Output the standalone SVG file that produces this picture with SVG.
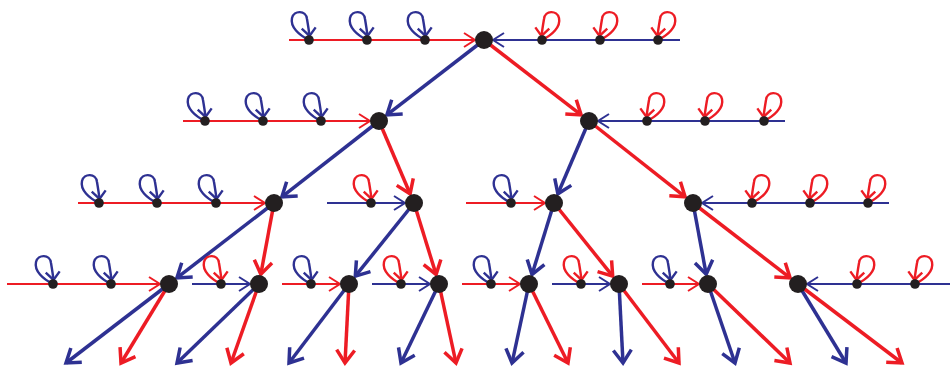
<svg xmlns="http://www.w3.org/2000/svg" xmlns:xlink="http://www.w3.org/1999/xlink" width="951" height="367" viewBox="0 0 951 367">
<style>
.tb{stroke:#2e3192;stroke-width:3.5;fill:none;marker-end:url(#mTB)}
.tr{stroke:#ed1c24;stroke-width:3.5;fill:none;marker-end:url(#mTR)}
.hb{stroke:#2e3192;stroke-width:1.8;fill:none;marker-end:url(#mHB)}
.hr{stroke:#ed1c24;stroke-width:1.8;fill:none;marker-end:url(#mHR)}
.lb{stroke:#2e3192;stroke-width:2.4;fill:none;marker-end:url(#mLB)}
.lr{stroke:#ed1c24;stroke-width:2.4;fill:none;marker-end:url(#mLR)}
.big{fill:#231f20}
.sm{fill:#231f20}
</style>
<defs>
<marker id="mTB" markerUnits="userSpaceOnUse" viewBox="-16 -12 20 24" markerWidth="20" markerHeight="24" refX="0" refY="0" orient="auto" overflow="visible"><path d="M-13,-9 L0,0 L-13,9" fill="none" stroke="#2e3192" stroke-width="3.5"/></marker>
<marker id="mTR" markerUnits="userSpaceOnUse" viewBox="-16 -12 20 24" markerWidth="20" markerHeight="24" refX="0" refY="0" orient="auto" overflow="visible"><path d="M-13,-9 L0,0 L-13,9" fill="none" stroke="#ed1c24" stroke-width="3.5"/></marker>
<marker id="mHB" markerUnits="userSpaceOnUse" viewBox="-14 -10 16 20" markerWidth="16" markerHeight="20" refX="0" refY="0" orient="auto" overflow="visible"><path d="M-11,-7 L0,0 L-11,7" fill="none" stroke="#2e3192" stroke-width="2"/></marker>
<marker id="mHR" markerUnits="userSpaceOnUse" viewBox="-14 -10 16 20" markerWidth="16" markerHeight="20" refX="0" refY="0" orient="auto" overflow="visible"><path d="M-11,-7 L0,0 L-11,7" fill="none" stroke="#ed1c24" stroke-width="2"/></marker>
<marker id="mLB" markerUnits="userSpaceOnUse" viewBox="-12 -10 14 20" markerWidth="14" markerHeight="20" refX="0" refY="0" orient="auto" overflow="visible"><path d="M-8,-7 L0,0 L-8,7" fill="none" stroke="#2e3192" stroke-width="2.4"/></marker>
<marker id="mLR" markerUnits="userSpaceOnUse" viewBox="-12 -10 14 20" markerWidth="14" markerHeight="20" refX="0" refY="0" orient="auto" overflow="visible"><path d="M-8,-7 L0,0 L-8,7" fill="none" stroke="#ed1c24" stroke-width="2.4"/></marker>
<path id="loop" d="M0,0 C-10,-5 -19,-13 -17,-22 C-15,-30 -3,-30 -2,-21 C-1,-15 0,-9 0.5,-4"/>
</defs>

<g id="connectors">
<!-- horizontal chains -->
<line class="hr" x1="289" y1="40" x2="475" y2="40"/>
<line class="hb" x1="680" y1="40" x2="493" y2="40"/>
<line class="hr" x1="183" y1="121" x2="370" y2="121"/>
<line class="hb" x1="785" y1="121" x2="598" y2="121"/>
<line class="hr" x1="78" y1="203" x2="265" y2="203"/>
<line class="hb" x1="327" y1="203" x2="405" y2="203"/>
<line class="hr" x1="466" y1="203" x2="545" y2="203"/>
<line class="hb" x1="889" y1="203" x2="702" y2="203"/>
<line class="hr" x1="7" y1="284" x2="160" y2="284"/>
<line class="hb" x1="192" y1="284" x2="250" y2="284"/>
<line class="hr" x1="282" y1="284" x2="340" y2="284"/>
<line class="hb" x1="372" y1="284" x2="430" y2="284"/>
<line class="hr" x1="462" y1="284" x2="520" y2="284"/>
<line class="hb" x1="552" y1="284" x2="610" y2="284"/>
<line class="hr" x1="642" y1="284" x2="699" y2="284"/>
<line class="hb" x1="950" y1="284" x2="807" y2="284"/>
<!-- tree edges -->
<line class="tb" x1="484" y1="40" x2="386.9" y2="114.9"/>
<line class="tr" x1="484" y1="40" x2="581.1" y2="114.9"/>
<line class="tb" x1="379" y1="121" x2="281.9" y2="196.8"/>
<line class="tr" x1="379" y1="121" x2="410.1" y2="193.8"/>
<line class="tb" x1="589" y1="121" x2="557.9" y2="193.8"/>
<line class="tr" x1="589" y1="121" x2="685.1" y2="196.8"/>
<line class="tb" x1="274" y1="203" x2="176.9" y2="277.9"/>
<line class="tr" x1="274" y1="203" x2="260.8" y2="274.2"/>
<line class="tb" x1="414" y1="203" x2="355.3" y2="276.2"/>
<line class="tr" x1="414" y1="203" x2="436.1" y2="274.5"/>
<line class="tb" x1="554" y1="203" x2="532" y2="274.5"/>
<line class="tr" x1="554" y1="203" x2="612.7" y2="276.2"/>
<line class="tb" x1="693" y1="203" x2="706.2" y2="274.2"/>
<line class="tr" x1="693" y1="203" x2="790.1" y2="277.9"/>
<!-- leaves -->
<line class="tb" x1="169" y1="284" x2="66" y2="363"/>
<line class="tr" x1="169" y1="284" x2="121" y2="363"/>
<line class="tb" x1="259" y1="284" x2="177" y2="363"/>
<line class="tr" x1="259" y1="284" x2="231" y2="363"/>
<line class="tb" x1="349" y1="284" x2="289" y2="363"/>
<line class="tr" x1="349" y1="284" x2="345" y2="363"/>
<line class="tb" x1="439" y1="284" x2="401" y2="363"/>
<line class="tr" x1="439" y1="284" x2="456" y2="363"/>
<line class="tb" x1="529" y1="284" x2="512" y2="363"/>
<line class="tr" x1="529" y1="284" x2="568" y2="363"/>
<line class="tb" x1="619" y1="284" x2="623" y2="363"/>
<line class="tr" x1="619" y1="284" x2="679" y2="363"/>
<line class="tb" x1="708" y1="284" x2="735" y2="363"/>
<line class="tr" x1="708" y1="284" x2="790" y2="363"/>
<line class="tb" x1="798" y1="284" x2="846" y2="363"/>
<line class="tr" x1="798" y1="284" x2="902" y2="363"/>
</g>

<!-- level 0 -->
<g id="n0"><circle class="big" cx="484" cy="40" r="9"/></g>
<g id="s0a"><use href="#loop" class="lb" transform="translate(309,40)"/><circle class="sm" cx="309" cy="40" r="4.8"/></g>
<g id="s0b"><use href="#loop" class="lb" transform="translate(367,40)"/><circle class="sm" cx="367" cy="40" r="4.8"/></g>
<g id="s0c"><use href="#loop" class="lb" transform="translate(425,40)"/><circle class="sm" cx="425" cy="40" r="4.8"/></g>
<g id="s0d"><use href="#loop" class="lr" transform="translate(542,40) scale(-1,1)"/><circle class="sm" cx="542" cy="40" r="4.8"/></g>
<g id="s0e"><use href="#loop" class="lr" transform="translate(600,40) scale(-1,1)"/><circle class="sm" cx="600" cy="40" r="4.8"/></g>
<g id="s0f"><use href="#loop" class="lr" transform="translate(658,40) scale(-1,1)"/><circle class="sm" cx="658" cy="40" r="4.8"/></g>

<!-- level 1 -->
<g id="n1a"><circle class="big" cx="379" cy="121" r="9"/></g>
<g id="n1b"><circle class="big" cx="589" cy="121" r="9"/></g>
<g id="s1a"><use href="#loop" class="lb" transform="translate(205,121)"/><circle class="sm" cx="205" cy="121" r="4.8"/></g>
<g id="s1b"><use href="#loop" class="lb" transform="translate(263,121)"/><circle class="sm" cx="263" cy="121" r="4.8"/></g>
<g id="s1c"><use href="#loop" class="lb" transform="translate(321,121)"/><circle class="sm" cx="321" cy="121" r="4.8"/></g>
<g id="s1d"><use href="#loop" class="lr" transform="translate(647,121) scale(-1,1)"/><circle class="sm" cx="647" cy="121" r="4.8"/></g>
<g id="s1e"><use href="#loop" class="lr" transform="translate(705,121) scale(-1,1)"/><circle class="sm" cx="705" cy="121" r="4.8"/></g>
<g id="s1f"><use href="#loop" class="lr" transform="translate(764,121) scale(-1,1)"/><circle class="sm" cx="764" cy="121" r="4.8"/></g>

<!-- level 2 -->
<g id="n2a"><circle class="big" cx="274" cy="203" r="9"/></g>
<g id="n2b"><circle class="big" cx="414" cy="203" r="9"/></g>
<g id="n2c"><circle class="big" cx="554" cy="203" r="9"/></g>
<g id="n2d"><circle class="big" cx="693" cy="203" r="9"/></g>
<g id="s2a"><use href="#loop" class="lb" transform="translate(99,203)"/><circle class="sm" cx="99" cy="203" r="4.8"/></g>
<g id="s2b"><use href="#loop" class="lb" transform="translate(157,203)"/><circle class="sm" cx="157" cy="203" r="4.8"/></g>
<g id="s2c"><use href="#loop" class="lb" transform="translate(216,203)"/><circle class="sm" cx="216" cy="203" r="4.8"/></g>
<g id="s2d"><use href="#loop" class="lr" transform="translate(371,203)"/><circle class="sm" cx="371" cy="203" r="4.8"/></g>
<g id="s2e"><use href="#loop" class="lb" transform="translate(511,203)"/><circle class="sm" cx="511" cy="203" r="4.8"/></g>
<g id="s2f"><use href="#loop" class="lr" transform="translate(752,203) scale(-1,1)"/><circle class="sm" cx="752" cy="203" r="4.8"/></g>
<g id="s2g"><use href="#loop" class="lr" transform="translate(810,203) scale(-1,1)"/><circle class="sm" cx="810" cy="203" r="4.8"/></g>
<g id="s2h"><use href="#loop" class="lr" transform="translate(868,203) scale(-1,1)"/><circle class="sm" cx="868" cy="203" r="4.8"/></g>

<!-- level 3 -->
<g id="n3a"><circle class="big" cx="169" cy="284" r="9"/></g>
<g id="n3b"><circle class="big" cx="259" cy="284" r="9"/></g>
<g id="n3c"><circle class="big" cx="349" cy="284" r="9"/></g>
<g id="n3d"><circle class="big" cx="439" cy="284" r="9"/></g>
<g id="n3e"><circle class="big" cx="529" cy="284" r="9"/></g>
<g id="n3f"><circle class="big" cx="619" cy="284" r="9"/></g>
<g id="n3g"><circle class="big" cx="708" cy="284" r="9"/></g>
<g id="n3h"><circle class="big" cx="798" cy="284" r="9"/></g>
<g id="s3a"><use href="#loop" class="lb" transform="translate(53,284)"/><circle class="sm" cx="53" cy="284" r="4.8"/></g>
<g id="s3b"><use href="#loop" class="lb" transform="translate(111,284)"/><circle class="sm" cx="111" cy="284" r="4.8"/></g>
<g id="s3c"><use href="#loop" class="lr" transform="translate(221,284)"/><circle class="sm" cx="221" cy="284" r="4.8"/></g>
<g id="s3d"><use href="#loop" class="lb" transform="translate(311,284)"/><circle class="sm" cx="311" cy="284" r="4.8"/></g>
<g id="s3e"><use href="#loop" class="lr" transform="translate(401,284)"/><circle class="sm" cx="401" cy="284" r="4.8"/></g>
<g id="s3f"><use href="#loop" class="lb" transform="translate(491,284)"/><circle class="sm" cx="491" cy="284" r="4.8"/></g>
<g id="s3g"><use href="#loop" class="lr" transform="translate(581,284)"/><circle class="sm" cx="581" cy="284" r="4.8"/></g>
<g id="s3h"><use href="#loop" class="lb" transform="translate(670,284)"/><circle class="sm" cx="670" cy="284" r="4.8"/></g>
<g id="s3i"><use href="#loop" class="lr" transform="translate(857,284) scale(-1,1)"/><circle class="sm" cx="857" cy="284" r="4.8"/></g>
<g id="s3j"><use href="#loop" class="lr" transform="translate(915,284) scale(-1,1)"/><circle class="sm" cx="915" cy="284" r="4.8"/></g>
</svg>
